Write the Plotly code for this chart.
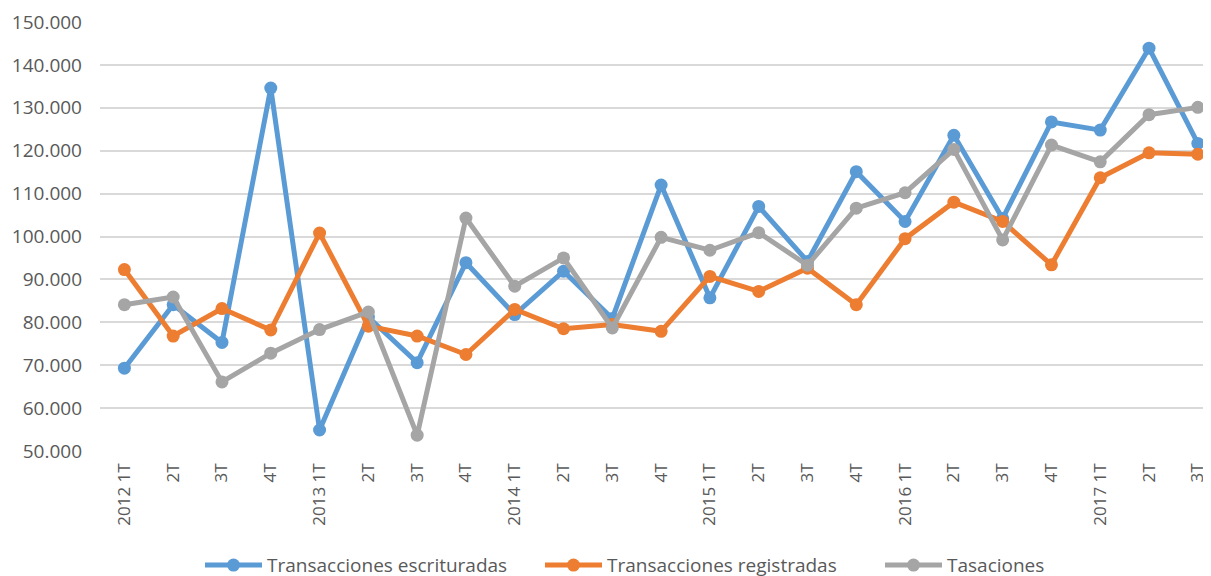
import plotly.graph_objects as go

periods = ["2012 1T", "2T", "3T", "4T", "2013 1T", "2T", "3T", "4T",
           "2014 1T", "2T", "3T", "4T", "2015 1T", "2T", "3T", "4T",
           "2016 1T", "2T", "3T", "4T", "2017 1T", "2T", "3T"]

escrituradas = [69300, 84100, 75300, 134600, 54900, 81200, 70600, 93900,
                81800, 91900, 80900, 112000, 85700, 107000, 94200, 115100,
                103500, 123600, 104200, 126700, 124800, 143900, 121700]

registradas = [92300, 76800, 83200, 78200, 100800, 79100, 76800, 72500,
               83000, 78500, 79500, 77900, 90700, 87200, 92600, 84100,
               99500, 108000, 103500, 93400, 113700, 119500, 119200]

tasaciones = [84100, 85900, 66100, 72800, 78300, 82400, 53700, 104300,
              88400, 95000, 78700, 99800, 96800, 100900, 93300, 106600,
              110200, 120300, 99200, 121300, 117400, 128400, 130100]

series = [
    ("Transacciones escrituradas", escrituradas, "#5B9BD5"),
    ("Transacciones registradas", registradas, "#ED7D31"),
    ("Tasaciones", tasaciones, "#A5A5A5"),
]

xs = list(range(len(periods)))
FONT = "Open Sans"
TXT = "#595959"

# page body has an 8px margin, so the figure is sized to fill the rest of the window
W, H = 1203, 568

fig = go.Figure()
for name, vals, col in series:
    fig.add_trace(go.Scatter(
        x=xs, y=vals, name=name, mode="lines+markers",
        line=dict(color=col, width=5),
        marker=dict(color=col, size=13),
    ))

fig.update_layout(
    width=W, height=H,
    paper_bgcolor="white", plot_bgcolor="white",
    margin=dict(l=92, r=0, t=13.5, b=124.5, autoexpand=False),
    font=dict(family=FONT, color=TXT, size=16),
    showlegend=True,
    legend=dict(
        orientation="h", xref="container", yref="container",
        x=192 / W, xanchor="left", y=0.019, yanchor="middle",
        font=dict(family=FONT, size=19, color=TXT),
        itemwidth=57, tracegroupgap=0,
        entrywidth=268, entrywidthmode="pixels",
        bgcolor="rgba(0,0,0,0)",
    ),
)

fig.update_xaxes(
    range=[-0.5, 22.27], automargin=False,
    tickmode="array", tickvals=xs, ticktext=periods,
    tickangle=-90, showgrid=False, zeroline=False, showline=False,
    ticks="", tickfont=dict(family=FONT, size=17, color=TXT),
    ticklabelstandoff=8,
)
fig.update_yaxes(
    range=[50000, 150000], automargin=False,
    tickvals=list(range(50000, 150001, 10000)),
    ticktext=[f"{v // 1000}.000" for v in range(50000, 150001, 10000)],
    showgrid=True, gridcolor="#D9D9D9", gridwidth=2,
    zeroline=False, showline=False, ticks="",
    tickfont=dict(family=FONT, size=19, color=TXT),
    ticklabelstandoff=17,
)

fig.write_html("out.html")
